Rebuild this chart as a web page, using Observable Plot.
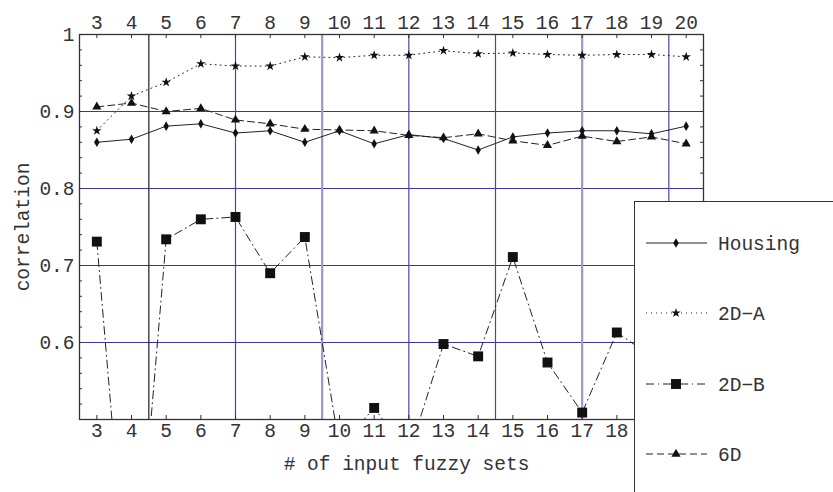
<!DOCTYPE html>
<html>
<head>
<meta charset="utf-8">
<script src="https://cdn.jsdelivr.net/npm/d3@7"></script>
<script src="https://cdn.jsdelivr.net/npm/@observablehq/plot@0.6"></script>
<style>
  body { margin: 0; background: #fff; }
  #wrap { position: relative; width: 833px; height: 492px; overflow: hidden; font-family: "Liberation Mono", monospace; }
  #legend { position: absolute; left: 634px; top: 201px; width: 260px; height: 320px; background: #fff;
    border-left: 1.5px solid #333; border-top: 1.5px solid #333; }
  #legend svg { position: absolute; left: 0; top: 0; }
</style>
</head>
<body>
<div id="wrap"><div id="legend"></div></div>
<script>
// ---- data ----
const nSets = [3,4,5,6,7,8,9,10,11,12,13,14,15,16,17,18,19,20];
const housing = [0.860,0.864,0.881,0.884,0.872,0.875,0.860,0.875,0.858,0.870,0.865,0.850,0.867,0.872,0.875,0.875,0.871,0.881];
const twoDA   = [0.875,0.920,0.938,0.962,0.959,0.959,0.971,0.970,0.973,0.973,0.979,0.975,0.976,0.974,0.973,0.974,0.974,0.971];
const twoDB   = [0.731,0.200,0.734,0.760,0.763,0.690,0.737,0.464,0.515,0.455,0.598,0.582,0.711,0.574,0.509,0.613,0.582,0.650];
const sixD    = [0.906,0.911,0.900,0.904,0.889,0.884,0.877,0.876,0.875,0.869,0.866,0.871,0.862,0.856,0.868,0.861,0.867,0.858];
const seriesNames = ["Housing","2D\u2212A","2D\u2212B","6D"];
const yTickValues = [0.6,0.7,0.8,0.9,1];
const yMinorTicks = d3.range(0.52, 1.0001, 0.02).map(v => +v.toFixed(2));
const hGrid = [0.6,0.7,0.8,0.9];
const vGrid = [4.5,7,9.5,12,14.5,17,19.5];
const xLabel = "# of input fuzzy sets";
const yLabel = "correlation";

// ---- styles ----
const styles = {
  "Housing": {symbol: "diamond", r: 2.9, dash: null},
  "2D\u2212A": {symbol: "star", r: 3.0, dash: "1,4"},
  "2D\u2212B": {symbol: "square", r: 5.6, dash: "8,4,1,4"},
  "6D": {symbol: "triangle", r: 3.4, dash: "7,4"}
};
const vGridStyle = {4.5: ["#1c1c2c",1.2], 7: ["#4a45a8",1.2], 9.5: ["#9c96cf",2.2], 12: ["#4a45a8",1.2],
  14.5: ["#4a45a8",1.2], 17: ["#9c96cf",2.2], 19.5: ["#4a45a8",1.2]};

const allValues = [housing, twoDA, twoDB, sixD];
const rows = [];
seriesNames.forEach((s, i) => nSets.forEach((n, j) => rows.push({series: s, n, v: allValues[i][j]})));

const W = 833, H = 492, mL = 79, mR = 130, mT = 34, mB = 73;
const pw = W - mL - mR, ph = H - mT - mB;
const font = "Liberation Mono";

const marks = [
  Plot.ruleY(hGrid, {y: d => d, stroke: "#3d3896", strokeWidth: 1.2}),
  Plot.ruleX(vGrid, {x: d => d, stroke: d => vGridStyle[d][0], strokeWidth: d => vGridStyle[d][1]}),
  // inward ticks
  Plot.ruleX(nSets, {x: d => d, insetBottom: ph - 4, stroke: "#333"}),
  Plot.ruleX(nSets, {x: d => d, insetTop: ph - 4, stroke: "#333"}),
  Plot.ruleY(yMinorTicks, {y: d => d, insetRight: pw - 3, stroke: "#333"}),
  Plot.ruleY(yMinorTicks, {y: d => d, insetLeft: pw - 3, stroke: "#333"}),
];
seriesNames.forEach(s => {
  const d = rows.filter(r => r.series === s);
  marks.push(Plot.line(d, {x: "n", y: "v", stroke: "#222", strokeWidth: 1, strokeDasharray: styles[s].dash, clip: true}));
  marks.push(Plot.dot(d, {x: "n", y: "v", symbol: styles[s].symbol, r: styles[s].r, fill: "#111", stroke: "none", clip: true}));
});
marks.push(
  Plot.frame({stroke: "#333", strokeWidth: 1.3}),
  Plot.axisX(nSets, {anchor: "top", tickSize: 0, tickPadding: 6, label: null, fill: "#333"}),
  Plot.axisX(nSets, {anchor: "bottom", tickSize: 0, tickPadding: 4, label: null, fill: "#333"}),
  Plot.axisY(yTickValues, {anchor: "left", tickSize: 0, tickPadding: 5, label: null, fill: "#333",
    tickFormat: d => d === 1 ? "1" : d.toFixed(1)}),
  Plot.text([xLabel], {frameAnchor: "bottom", textAnchor: "middle", lineAnchor: "middle", dy: 44, dx: 15, fill: "#333"}),
  Plot.text([yLabel], {frameAnchor: "left", textAnchor: "middle", lineAnchor: "middle", dx: -57, rotate: -90, fill: "#333"})
);

const chart = Plot.plot({
  width: W, height: H,
  marginLeft: mL, marginRight: mR, marginTop: mT, marginBottom: mB,
  x: {domain: [2.5, 20.5]},
  y: {domain: [0.5, 1]},
  style: {fontFamily: font, fontSize: "19.5px", background: "#fff", color: "#333"},
  marks
});
document.getElementById("wrap").prepend(chart);

// ---- legend (drawn with d3 symbols) ----
const lg = d3.select("#legend").append("svg").attr("width", 260).attr("height", 320);
const legendY = [41, 111, 182, 252];
seriesNames.forEach((s, i) => {
  const g = lg.append("g").attr("transform", `translate(0,${legendY[i]})`);
  g.append("line").attr("x1", 11).attr("x2", 72).attr("y1", 0).attr("y2", 0)
    .attr("stroke", "#222").attr("stroke-width", 1).attr("stroke-dasharray", styles[s].dash);
  const sym = {diamond: d3.symbolDiamond, star: d3.symbolStar, square: d3.symbolSquare, triangle: d3.symbolTriangle}[styles[s].symbol];
  g.append("path").attr("transform", "translate(41,0)")
    .attr("d", d3.symbol(sym, Math.PI * styles[s].r * styles[s].r)())
    .attr("fill", "#111");
  g.append("text").attr("x", 83).attr("y", 0).attr("dy", "0.35em")
    .attr("font-family", font).attr("font-size", "19.5px").attr("fill", "#333").text(s);
});
</script>
</body>
</html>
